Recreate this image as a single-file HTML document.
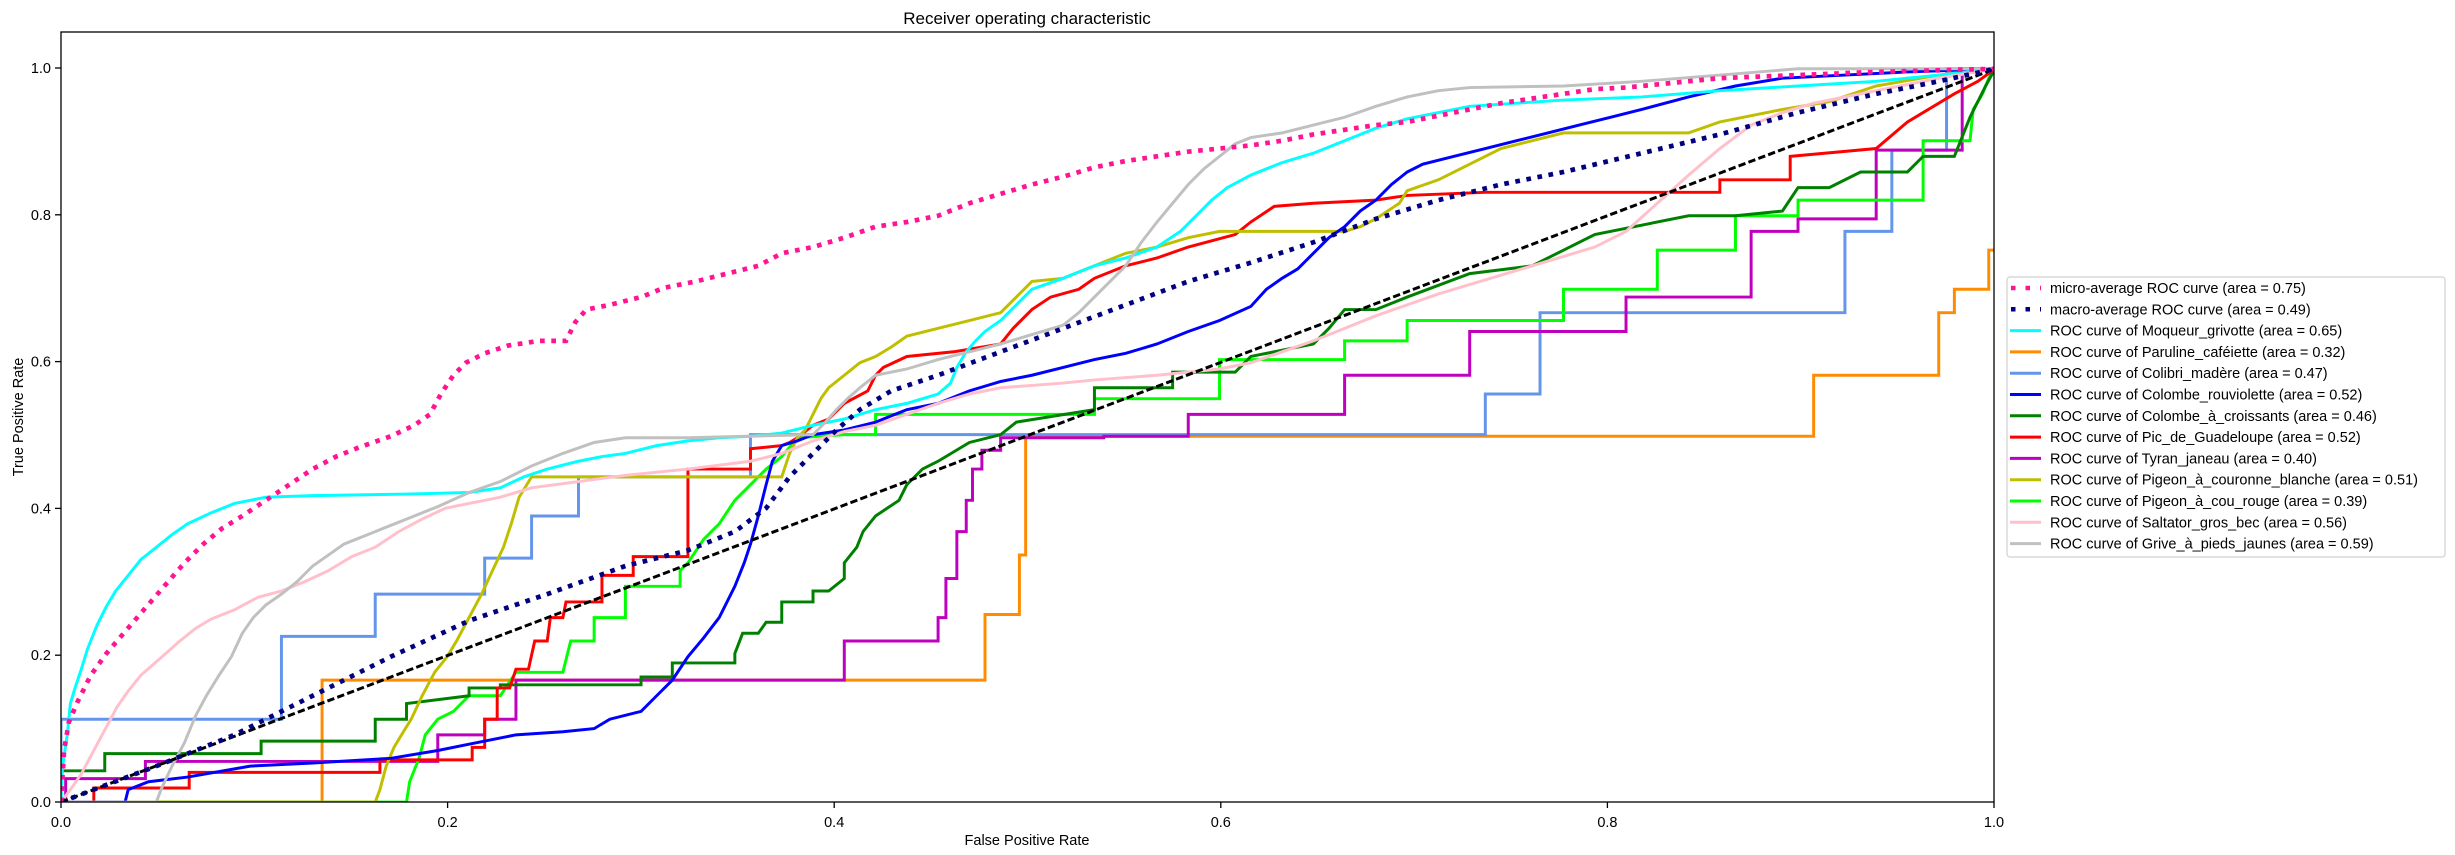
<!DOCTYPE html>
<html><head><meta charset="utf-8"><style>
html,body{margin:0;padding:0;background:#fff;}
svg{display:block;}
text{font-family:"Liberation Sans","DejaVu Sans",sans-serif;fill:#000;}
</style></head><body>
<svg width="2455" height="855" xmlns="http://www.w3.org/2000/svg">
<defs><clipPath id="c"><rect x="61" y="32" width="1933" height="770"/></clipPath></defs>
<rect width="2455" height="855" fill="#fff"/>
<g clip-path="url(#c)">
<g transform="scale(1.5635)" fill="none" stroke-linejoin="miter">
<polyline stroke="darkorange" stroke-width="1.9" points="39,513 206,513 206,435 630,435 630,393 652,393 652,355 656,355 656,279 1160,279 1160,240 1240,240 1240,200 1250,200 1250,185 1272,185 1272,160 1276,160 1276,44"/>
<polyline stroke="cornflowerblue" stroke-width="1.9" points="39,513 39,460 180,460 180,407 240,407 240,380 310,380 310,357 340,357 340,330 370,330 370,305 480,305 480,278 950,278 950,252 985,252 985,200 1180,200 1180,148 1210,148 1210,96 1245,96 1245,44 1276,44"/>
<polyline stroke="#bf00bf" stroke-width="1.9" points="39,513 42,513 42,498 93,498 93,487 280,487 280,470 310,470 310,460 330,460 330,435 540,435 540,410 600,410 600,395 605,395 605,370 612,370 612,340 618,340 618,320 622,320 622,300 628,300 628,288 640,288 640,280 706,280 706,279 760,279 760,265 860,265 860,240 940,240 940,212 1040,212 1040,190 1120,190 1120,148 1150,148 1150,140 1200,140 1200,96 1255,96 1255,44 1276,44"/>
<polyline stroke="lime" stroke-width="1.9" points="39,513 260,513 262,500 268,485 272,470 280,460 290,455 300,445 320,445 330,430 360,430 365,410 380,410 380,395 400,395 400,375 435,375 435,365 440,360 450,345 460,335 470,320 480,310 490,300 500,292 510,280 540,278 560,278 560,265 700,265 700,255 780,255 780,230 860,230 860,218 900,218 900,205 1000,205 1000,185 1060,185 1060,160 1110,160 1110,138 1150,138 1150,128 1230,128 1230,90 1260,90 1262,70 1268,60 1272,50 1276,44"/>
<polyline stroke="green" stroke-width="1.9" points="39,513 39,493 67,493 67,482 167,482 167,474 240,474 240,460 260,460 260,450 300,445 300,440 320,440 320,438 410,438 410,433 430,433 430,424 470,424 470,418 475,405 485,405 490,398 500,398 500,385 520,385 520,378 530,378 540,370 540,360 548,350 552,340 560,330 575,320 580,310 590,300 600,295 620,283 640,278 650,270 700,262 700,248 750,248 750,238 790,238 800,228 840,220 850,210 860,198 880,198 900,190 940,175 980,170 1000,160 1020,150 1080,138 1110,138 1140,135 1150,120 1170,120 1190,110 1220,110 1230,100 1250,100 1260,75 1270,55 1276,44"/>
<polyline stroke="red" stroke-width="1.9" points="39,513 60,513 60,504 121,504 121,494 243,494 243,486 302,486 302,478 310,478 310,460 318,460 318,440 326,440 330,428 338,428 342,410 350,410 352,395 360,395 362,385 385,385 385,368 405,368 405,356 440,356 440,300 480,300 480,287 500,285 505,283 510,280 520,272 530,268 540,258 555,250 560,240 565,235 580,228 610,225 640,220 648,210 660,198 672,190 690,185 700,178 720,170 740,165 760,158 790,150 800,142 815,132 840,130 880,128 900,125 950,123 1100,123 1100,115 1145,115 1145,100 1200,95 1220,78 1250,60 1265,52 1276,44"/>
<polyline stroke="#bfbf00" stroke-width="1.9" points="39,513 240,513 243,505 247,490 252,478 258,468 263,460 270,445 278,430 286,420 292,410 300,395 308,380 315,365 322,350 327,335 332,318 340,305 380,305 440,305 500,305 505,290 510,280 515,275 520,265 525,255 530,248 540,240 550,232 560,228 570,222 580,215 600,210 620,205 640,200 650,190 660,180 680,178 700,170 720,162 740,158 760,152 780,148 820,148 860,148 870,145 880,140 895,130 900,122 920,115 940,105 960,95 980,90 1000,85 1080,85 1100,78 1140,70 1170,65 1200,55 1240,48 1276,44"/>
<polyline stroke="blue" stroke-width="1.9" points="39,513 80,513 82,505 95,500 120,497 160,490 200,488 250,485 280,480 300,476 330,470 360,468 380,466 390,460 410,455 420,445 430,435 440,420 450,408 460,395 465,385 470,375 476,360 480,348 485,330 490,310 494,295 500,285 510,282 520,278 540,275 560,270 580,262 600,258 620,250 640,244 660,240 680,235 700,230 720,226 740,220 760,212 780,205 800,196 810,185 820,178 830,172 840,162 850,152 860,145 870,135 880,128 890,118 900,110 910,105 930,100 950,95 970,90 990,85 1010,80 1030,75 1050,70 1080,62 1110,55 1140,50 1180,48 1220,46 1276,44"/>
<polyline stroke="cyan" stroke-width="1.9" points="39,513 40,490 43,470 45,450 48,440 52,428 56,415 62,400 68,388 74,378 82,368 90,358 100,350 110,342 120,335 135,328 150,322 170,318 200,317 260,316 300,315 320,312 335,305 350,300 370,295 385,292 400,290 420,285 440,282 460,280 480,279 500,277 520,272 540,268 560,262 580,258 600,252 608,245 612,235 618,225 624,218 630,212 640,205 650,195 660,185 680,178 700,170 720,165 740,158 755,148 765,138 775,128 785,120 800,112 820,104 840,98 860,90 880,82 900,76 920,72 940,68 970,66 1000,64 1050,62 1100,58 1150,55 1200,52 1240,48 1276,44"/>
<polyline stroke="pink" stroke-width="1.9" points="39,513 45,505 52,495 60,480 68,465 75,452 82,442 90,432 98,425 106,418 115,410 125,402 135,396 150,390 165,382 180,378 195,372 210,365 225,356 240,350 255,340 270,332 285,325 300,322 320,318 340,312 370,308 400,304 440,300 480,295 500,290 520,282 540,276 560,272 580,265 600,258 620,252 640,248 680,245 700,243 740,240 780,236 800,232 820,225 840,218 860,210 880,202 900,195 920,188 940,182 960,176 980,170 1000,164 1020,158 1040,148 1060,130 1080,112 1100,95 1120,80 1140,72 1160,66 1200,58 1240,50 1276,44"/>
<polyline stroke="silver" stroke-width="1.9" points="39,513 100,513 103,505 110,490 118,475 125,458 132,445 140,432 148,420 155,405 162,395 170,387 180,380 190,372 200,362 210,355 220,348 240,340 260,332 280,324 300,315 320,308 340,298 360,290 380,283 400,280 440,280 520,278 528,270 535,262 542,255 550,248 560,240 580,236 600,230 620,225 640,220 660,214 680,208 690,200 700,190 710,180 720,170 730,155 740,142 750,130 760,118 770,108 780,100 790,92 800,88 820,85 840,80 860,75 880,68 900,62 920,58 940,56 1000,55 1050,52 1100,48 1150,44 1276,44"/>
<line x1="39" y1="513" x2="1276" y2="44" stroke="#000" stroke-width="1.9" stroke-dasharray="4.7,2.05"/>
<polyline stroke="navy" stroke-width="3" stroke-dasharray="3,4.2" points="39,513 60,505 100,490 150,470 200,445 250,420 300,397 350,380 400,362 440,352 470,340 490,325 505,305 520,290 535,275 550,262 570,250 600,240 640,225 680,210 720,195 760,180 800,168 840,155 880,140 920,128 960,118 1000,110 1050,98 1100,86 1150,72 1200,60 1240,52 1276,44"/>
<polyline stroke="deeppink" stroke-width="3" stroke-dasharray="3,4.2" points="39,513 41,480 44,462 50,448 58,432 68,418 80,404 92,390 105,375 118,360 130,348 142,338 155,330 170,320 185,310 200,300 215,292 230,286 250,279 265,272 275,265 282,252 290,240 298,232 310,226 325,221 345,218 362,218 368,206 375,198 390,195 410,190 425,184 445,180 465,175 485,170 500,162 520,158 540,152 560,145 580,142 600,138 620,130 640,124 660,118 680,113 700,107 720,103 740,100 760,97 780,95 800,93 820,90 840,86 860,83 880,80 900,78 920,74 940,70 960,66 980,63 1000,60 1020,57 1040,56 1060,54 1100,50 1150,48 1200,46 1276,44"/>
</g>
</g>
<rect x="61" y="32" width="1933" height="770" fill="none" stroke="#000" stroke-width="1.3"/>
<g stroke="#000" stroke-width="1.3">
<line x1="61" y1="802" x2="61" y2="808"/><line x1="447.6" y1="802" x2="447.6" y2="808"/><line x1="834.2" y1="802" x2="834.2" y2="808"/><line x1="1220.8" y1="802" x2="1220.8" y2="808"/><line x1="1607.4" y1="802" x2="1607.4" y2="808"/><line x1="1994" y1="802" x2="1994" y2="808"/>
<line x1="55" y1="802" x2="61" y2="802"/><line x1="55" y1="655.2" x2="61" y2="655.2"/><line x1="55" y1="508.4" x2="61" y2="508.4"/><line x1="55" y1="361.6" x2="61" y2="361.6"/><line x1="55" y1="214.8" x2="61" y2="214.8"/><line x1="55" y1="68" x2="61" y2="68"/>
</g>
<g font-size="14.5" text-anchor="middle">
<text x="61" y="827">0.0</text><text x="447.6" y="827">0.2</text><text x="834.2" y="827">0.4</text><text x="1220.8" y="827">0.6</text><text x="1607.4" y="827">0.8</text><text x="1994" y="827">1.0</text>
</g>
<g font-size="14.5" text-anchor="end">
<text x="51" y="807">0.0</text><text x="51" y="660.2">0.2</text><text x="51" y="513.4">0.4</text><text x="51" y="366.6">0.6</text><text x="51" y="219.8">0.8</text><text x="51" y="73">1.0</text>
</g>
<text x="1027" y="24" font-size="17" text-anchor="middle">Receiver operating characteristic</text>
<text x="1027" y="845" font-size="14.5" text-anchor="middle">False Positive Rate</text>
<text transform="translate(23,417) rotate(-90)" font-size="14.5" text-anchor="middle">True Positive Rate</text>
<rect x="2007" y="277" width="438" height="280" rx="3" fill="#fff" stroke="#d0d0d0" stroke-width="1.2"/>
<g stroke-width="3">
<line x1="2011" y1="288" x2="2041" y2="288" stroke="deeppink" stroke-width="4.5" stroke-dasharray="4.5,10"/>
<line x1="2011" y1="309.3" x2="2041" y2="309.3" stroke="navy" stroke-width="4.5" stroke-dasharray="4.5,10"/>
<line x1="2010" y1="330.6" x2="2041" y2="330.6" stroke="cyan"/>
<line x1="2010" y1="351.9" x2="2041" y2="351.9" stroke="darkorange"/>
<line x1="2010" y1="373.2" x2="2041" y2="373.2" stroke="cornflowerblue"/>
<line x1="2010" y1="394.5" x2="2041" y2="394.5" stroke="blue"/>
<line x1="2010" y1="415.8" x2="2041" y2="415.8" stroke="green"/>
<line x1="2010" y1="437.1" x2="2041" y2="437.1" stroke="red"/>
<line x1="2010" y1="458.4" x2="2041" y2="458.4" stroke="#bf00bf"/>
<line x1="2010" y1="479.7" x2="2041" y2="479.7" stroke="#bfbf00"/>
<line x1="2010" y1="501" x2="2041" y2="501" stroke="lime"/>
<line x1="2010" y1="522.3" x2="2041" y2="522.3" stroke="pink"/>
<line x1="2010" y1="543.6" x2="2041" y2="543.6" stroke="silver"/>
</g>
<g font-size="14.5">
<text x="2050" y="293">micro-average ROC curve (area = 0.75)</text>
<text x="2050" y="314.3">macro-average ROC curve (area = 0.49)</text>
<text x="2050" y="335.6">ROC curve of Moqueur_grivotte (area = 0.65)</text>
<text x="2050" y="356.9">ROC curve of Paruline_caféiette (area = 0.32)</text>
<text x="2050" y="378.2">ROC curve of Colibri_madère (area = 0.47)</text>
<text x="2050" y="399.5">ROC curve of Colombe_rouviolette (area = 0.52)</text>
<text x="2050" y="420.8">ROC curve of Colombe_à_croissants (area = 0.46)</text>
<text x="2050" y="442.1">ROC curve of Pic_de_Guadeloupe (area = 0.52)</text>
<text x="2050" y="463.4">ROC curve of Tyran_janeau (area = 0.40)</text>
<text x="2050" y="484.7">ROC curve of Pigeon_à_couronne_blanche (area = 0.51)</text>
<text x="2050" y="506">ROC curve of Pigeon_à_cou_rouge (area = 0.39)</text>
<text x="2050" y="527.3">ROC curve of Saltator_gros_bec (area = 0.56)</text>
<text x="2050" y="548.6">ROC curve of Grive_à_pieds_jaunes (area = 0.59)</text>
</g>
</svg>
</body></html>
